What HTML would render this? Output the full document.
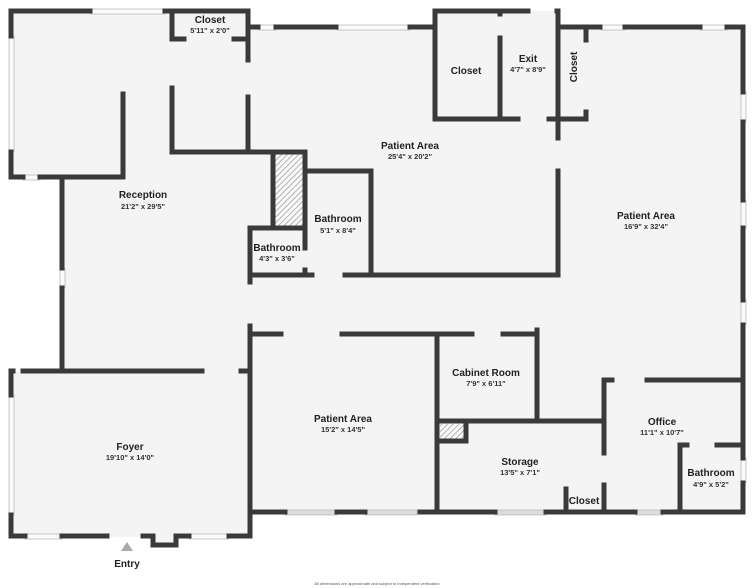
<!DOCTYPE html>
<html><head><meta charset="utf-8"><style>
html,body{margin:0;padding:0;background:#fff;}
svg{display:block;}
text{font-family:"Liberation Sans",sans-serif;fill:#222;text-anchor:middle;}
.n{font-size:10px;font-weight:bold;}
.d{font-size:7.5px;font-weight:bold;fill:#333;}
</style></head><body>
<svg width="754" height="588" viewBox="0 0 754 588" xmlns="http://www.w3.org/2000/svg">
<defs>
<pattern id="h" width="4" height="4" patternUnits="userSpaceOnUse" patternTransform="rotate(45)">
<rect width="4" height="4" fill="#fafafa"/><line x1="0" y1="0" x2="0" y2="4" stroke="#999" stroke-width="1.5"/>
</pattern>
</defs>
<g fill="#f4f4f4">
<rect x="10" y="11" width="240" height="166"/>
<rect x="62" y="150" width="190" height="222"/>
<rect x="10" y="371" width="242" height="166"/>
<rect x="152" y="536" width="25" height="10"/>
<rect x="248" y="27" width="312" height="250"/>
<rect x="248" y="273" width="497" height="240"/>
<rect x="435" y="11" width="124" height="110"/>
<rect x="556" y="27" width="189" height="486"/>
</g>
<rect x="273" y="154" width="32" height="74" fill="url(#h)"/>
<rect x="440" y="424" width="26" height="17" fill="url(#h)"/>
<g fill="#fafafa" stroke="#bbb" stroke-width="0.8">
<rect x="90" y="9" width="75" height="5"/>
<rect x="9" y="36" width="5" height="116"/>
<rect x="23" y="175" width="17" height="5"/>
<rect x="258" y="25" width="18" height="5"/>
<rect x="336" y="25" width="74" height="5"/>
<rect x="600" y="25" width="25" height="5"/>
<rect x="700" y="25" width="27" height="5"/>
<rect x="741" y="92" width="5" height="30"/>
<rect x="741" y="200" width="5" height="28"/>
<rect x="741" y="300" width="5" height="25"/>
<rect x="741" y="458" width="5" height="25"/>
<rect x="60" y="268" width="5" height="20"/>
<rect x="9" y="395" width="5" height="120"/>
<rect x="25" y="534" width="37" height="5"/>
<rect x="189" y="534" width="40" height="5"/>
<rect x="285" y="510" width="52" height="5" fill="#ddd"/>
<rect x="365" y="510" width="52" height="5" fill="#ddd"/>
<rect x="495" y="510" width="51" height="5" fill="#ddd"/>
<rect x="635" y="510" width="28" height="5" fill="#ddd"/>
</g>
<g stroke="#3a3a3a" stroke-width="5" fill="none" stroke-linecap="square">
<polyline points="11,36 11,11 90,11"/>
<line x1="165" y1="11" x2="248" y2="11"/>
<polyline points="11,152 11,177 23,177"/>
<line x1="40" y1="177" x2="123" y2="177"/>
<line x1="123" y1="177" x2="123" y2="94"/>
<polyline points="184,39 172,39 172,11"/>
<line x1="234" y1="39" x2="248" y2="39"/>
<line x1="248" y1="11" x2="248" y2="60"/>
<line x1="248" y1="97" x2="248" y2="152"/>
<polyline points="172,88 172,152 305,152"/>
<line x1="273" y1="152" x2="273" y2="228"/>
<line x1="305" y1="152" x2="305" y2="248"/>
<line x1="305" y1="270" x2="305" y2="275"/>
<polyline points="250,282 250,228 305,228"/>
<polyline points="307,171 371,171 371,275"/>
<line x1="250" y1="275" x2="312" y2="275"/>
<line x1="345" y1="275" x2="558" y2="275"/>
<line x1="250" y1="27" x2="258" y2="27"/>
<line x1="276" y1="27" x2="336" y2="27"/>
<line x1="410" y1="27" x2="435" y2="27"/>
<polyline points="435,27 435,11 528,11"/>
<line x1="557" y1="11" x2="558" y2="11"/>
<line x1="435" y1="11" x2="435" y2="119"/>
<line x1="500" y1="38" x2="500" y2="119"/>
<line x1="500" y1="11" x2="500" y2="14"/>
<line x1="435" y1="119" x2="518" y2="119"/>
<line x1="549" y1="119" x2="586" y2="119"/>
<line x1="558" y1="11" x2="558" y2="138"/>
<line x1="558" y1="171" x2="558" y2="275"/>
<line x1="558" y1="27" x2="600" y2="27"/>
<line x1="586" y1="27" x2="586" y2="40"/>
<line x1="586" y1="112" x2="586" y2="119"/>
<line x1="625" y1="27" x2="700" y2="27"/>
<polyline points="727,27 743,27 743,92"/>
<line x1="743" y1="122" x2="743" y2="200"/>
<line x1="743" y1="228" x2="743" y2="300"/>
<line x1="743" y1="325" x2="743" y2="458"/>
<polyline points="743,483 743,512 663,512"/>
<line x1="62" y1="177" x2="62" y2="268"/>
<line x1="62" y1="288" x2="62" y2="371"/>
<line x1="23" y1="371" x2="202" y2="371"/>
<polyline points="11,395 11,371 13,371"/>
<line x1="241" y1="371" x2="250" y2="371"/>
<polyline points="11,515 11,536 25,536"/>
<line x1="62" y1="536" x2="107" y2="536"/>
<polyline points="143,536 153,536 153,545 176,545 176,536 189,536"/>
<line x1="229" y1="536" x2="250" y2="536"/>
<line x1="250" y1="326" x2="250" y2="536"/>
<line x1="250" y1="334" x2="281" y2="334"/>
<line x1="342" y1="334" x2="472" y2="334"/>
<line x1="503" y1="334" x2="537" y2="334"/>
<line x1="537" y1="330" x2="537" y2="421"/>
<line x1="437" y1="334" x2="437" y2="512"/>
<line x1="437" y1="421" x2="604" y2="421"/>
<polyline points="440,441 466,441 466,424"/>
<line x1="250" y1="512" x2="285" y2="512"/>
<line x1="337" y1="512" x2="365" y2="512"/>
<line x1="420" y1="512" x2="495" y2="512"/>
<line x1="546" y1="512" x2="635" y2="512"/>
<polyline points="612,380 604,380 604,453"/>
<line x1="604" y1="485" x2="604" y2="512"/>
<line x1="647" y1="380" x2="743" y2="380"/>
<line x1="566" y1="489" x2="566" y2="512"/>
<polyline points="687,445 680,445 680,512"/>
<line x1="717" y1="445" x2="743" y2="445"/>
</g>
<polygon points="121,551 133,551 127,542" fill="#aaa"/>
<text class="n" x="210" y="23">Closet</text><text class="d" x="210" y="33">5'11" x 2'0"</text>
<text class="n" x="143" y="198">Reception</text><text class="d" x="143" y="209">21'2" x 29'5"</text>
<text class="n" x="410" y="149">Patient Area</text><text class="d" x="410" y="159">25'4" x 20'2"</text>
<text class="n" x="466" y="74">Closet</text>
<text class="n" x="528" y="62">Exit</text><text class="d" x="528" y="72">4'7" x 8'9"</text>
<text class="n" x="577" y="67" transform="rotate(-90 577 67)">Closet</text>
<text class="n" x="646" y="219">Patient Area</text><text class="d" x="646" y="229">16'9" x 32'4"</text>
<text class="n" x="338" y="222">Bathroom</text><text class="d" x="338" y="233">5'1" x 8'4"</text>
<text class="n" x="277" y="251">Bathroom</text><text class="d" x="277" y="261">4'3" x 3'6"</text>
<text class="n" x="486" y="376">Cabinet Room</text><text class="d" x="486" y="386">7'9" x 6'11"</text>
<text class="n" x="343" y="422">Patient Area</text><text class="d" x="343" y="432">15'2" x 14'5"</text>
<text class="n" x="130" y="450">Foyer</text><text class="d" x="130" y="460">19'10" x 14'0"</text>
<text class="n" x="520" y="465">Storage</text><text class="d" x="520" y="475">13'5" x 7'1"</text>
<text class="n" x="662" y="425">Office</text><text class="d" x="662" y="435">11'1" x 10'7"</text>
<text class="n" x="711" y="476">Bathroom</text><text class="d" x="711" y="487">4'9" x 5'2"</text>
<text class="n" x="584" y="504">Closet</text>
<text class="n" x="127" y="567">Entry</text>
<text x="377" y="585" style="font-size:4px;fill:#555">All dimensions are approximate and subject to independent verification</text>
</svg>
</body></html>
